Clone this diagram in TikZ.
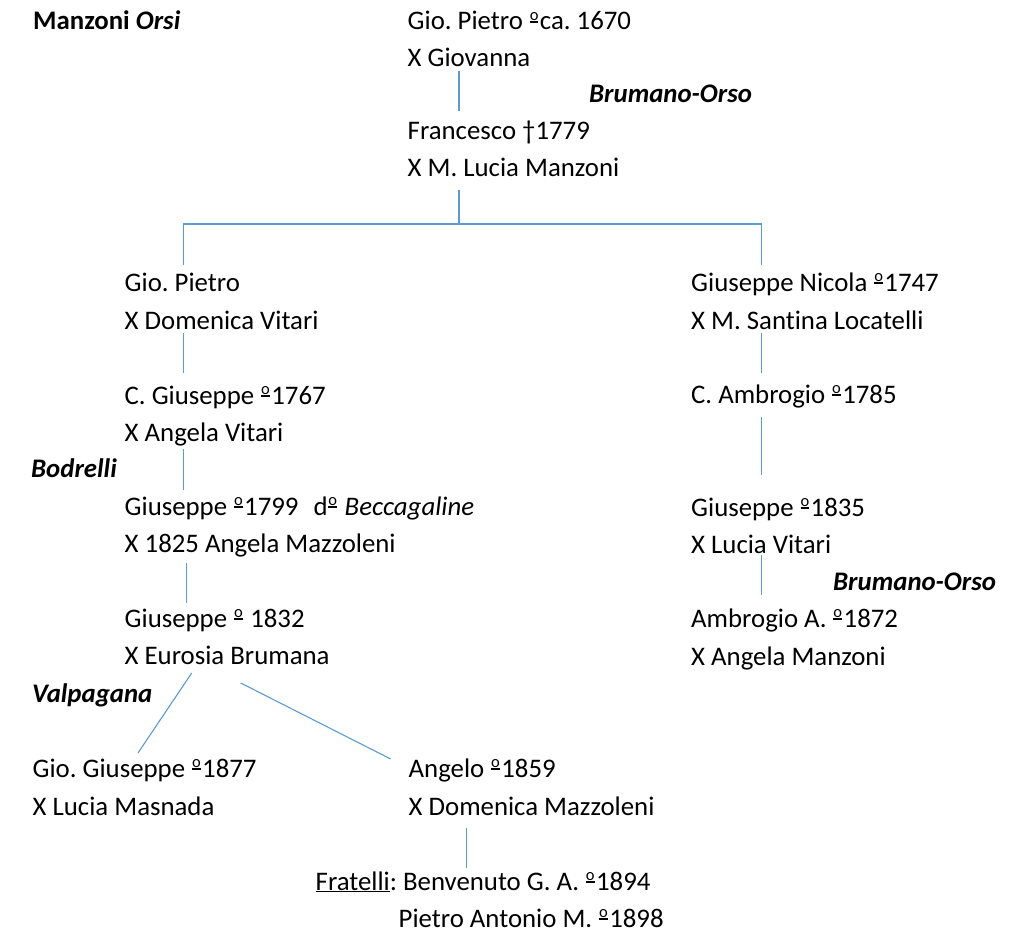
\documentclass[tikz,border=0pt]{standalone}
\usepackage{fontspec}
\setmainfont[Ligatures=NoCommon]{Carlito}
\definecolor{linkblue}{HTML}{5B9BD5}
\newcommand{\ordm}{\kern0.8pt\raisebox{7.3pt}{\vbox{\hbox{\fontsize{16.5}{16.5}\selectfont o}\kern0.9pt\hrule height 1.3pt}}\kern1.5pt}
\tikzset{
  txt/.style={anchor=base west, inner sep=0pt, font=\fontsize{26.8}{32}\selectfont},
  fam/.style={txt, font=\fontsize{26.8}{32}\selectfont\bfseries\itshape},
  link/.style={draw=linkblue, line width=1.1pt}
}
\frenchspacing
\begin{document}
\frenchspacing
\begin{tikzpicture}[x=1pt,y=-1pt]
\useasboundingbox (0,0) rectangle (1014,936);
% family labels
\node[txt] (manzoni) at (33,30) {\bfseries Manzoni \textit{Orsi}};
\node[fam] (brum1) at (589,103) {Brumano-Orso};
\node[fam] (bodrelli) at (31,477) {Bodrelli};
\node[fam] (valpagana) at (32,702) {Valpagana};
\node[fam] (brum2) at (833,590) {Brumano-Orso};
% top
\node[txt] (gp1) at (407.5,30) {Gio. Pietro \ordm ca. 1670};
\node[txt] (gp1x) at (407.5,67) {X Giovanna};
\node[txt] (fr) at (407.5,140) {Francesco †1779};
\node[txt] (frx) at (407.5,177) {X M. Lucia Manzoni};
% left branch
\node[txt] (gp2) at (124.5,291) {Gio. Pietro};
\node[txt] (gp2x) at (124.5,329) {X Domenica Vitari};
\node[txt] (cg) at (124.5,404) {C. Giuseppe \ordm 1767};
\node[txt] (cgx) at (124.5,441) {X Angela Vitari};
\node[txt] (g99) at (124.5,515) {Giuseppe \ordm 1799\hspace{15pt}d\ordm\ \textit{Beccagaline}};
\node[txt] (g99x) at (124.5,552) {X 1825 Angela Mazzoleni};
\node[txt] (g32) at (124.5,627) {Giuseppe \ordm\ 1832};
\node[txt] (g32x) at (124.5,664) {X Eurosia Brumana};
\node[txt] (gg) at (32.5,777) {Gio. Giuseppe \ordm 1877};
\node[txt] (ggx) at (32.5,815) {X Lucia Masnada};
\node[txt] (an) at (408.5,777) {Angelo \ordm 1859};
\node[txt] (anx) at (408.5,815) {X Domenica Mazzoleni};
\node[txt] (frat) at (315.5,890) {\underline{Fratelli}: Benvenuto G. A. \ordm 1894};
\node[txt] (pam) at (398.5,927) {Pietro Antonio M. \ordm 1898};
% right branch
\node[txt] (gn) at (691,291) {Giuseppe Nicola \ordm 1747};
\node[txt] (gnx) at (691,329) {X M. Santina Locatelli};
\node[txt] (ca) at (691,403) {C. Ambrogio \ordm 1785};
\node[txt] (g35) at (691,516) {Giuseppe \ordm 1835};
\node[txt] (g35x) at (691,553) {X Lucia Vitari};
\node[txt] (aa) at (691,627) {Ambrogio A. \ordm 1872};
\node[txt] (aax) at (691,665) {X Angela Manzoni};
% connector end points
\coordinate (a1) at (459,71);   \coordinate (a2) at (459,111);
\coordinate (b1) at (459,190);  \coordinate (b2) at (459,224);
\coordinate (bl) at (183.7,224); \coordinate (br) at (761.7,224);
\coordinate (bl2) at (183.7,265); \coordinate (br2) at (761.7,265);
\coordinate (c1) at (183.7,333); \coordinate (c2) at (183.7,373);
\coordinate (d1) at (183.7,449); \coordinate (d2) at (183.7,490);
\coordinate (e1) at (186.7,563); \coordinate (e2) at (186.7,603);
\coordinate (f1) at (191.7,673); \coordinate (f2) at (138,753);
\coordinate (h1) at (240.7,683); \coordinate (h2) at (390.7,759);
\coordinate (k1) at (466.7,828); \coordinate (k2) at (466.7,868);
\coordinate (m1) at (761.7,333); \coordinate (m2) at (761.7,373);
\coordinate (n1) at (761.7,417); \coordinate (n2) at (761.7,475);
\coordinate (p1) at (761.7,555); \coordinate (p2) at (761.7,595);
% connectors
\draw[link] (a1) -- (a2);
\draw[link] (b1) -- (b2);
\draw[link] (bl2) -- (bl) -- (br) -- (br2);
\draw[link] (c1) -- (c2);
\draw[link] (d1) -- (d2);
\draw[link] (e1) -- (e2);
\draw[link] (f1) -- (f2);
\draw[link] (h1) -- (h2);
\draw[link] (k1) -- (k2);
\draw[link] (m1) -- (m2);
\draw[link] (n1) -- (n2);
\draw[link] (p1) -- (p2);
\end{tikzpicture}
\end{document}
